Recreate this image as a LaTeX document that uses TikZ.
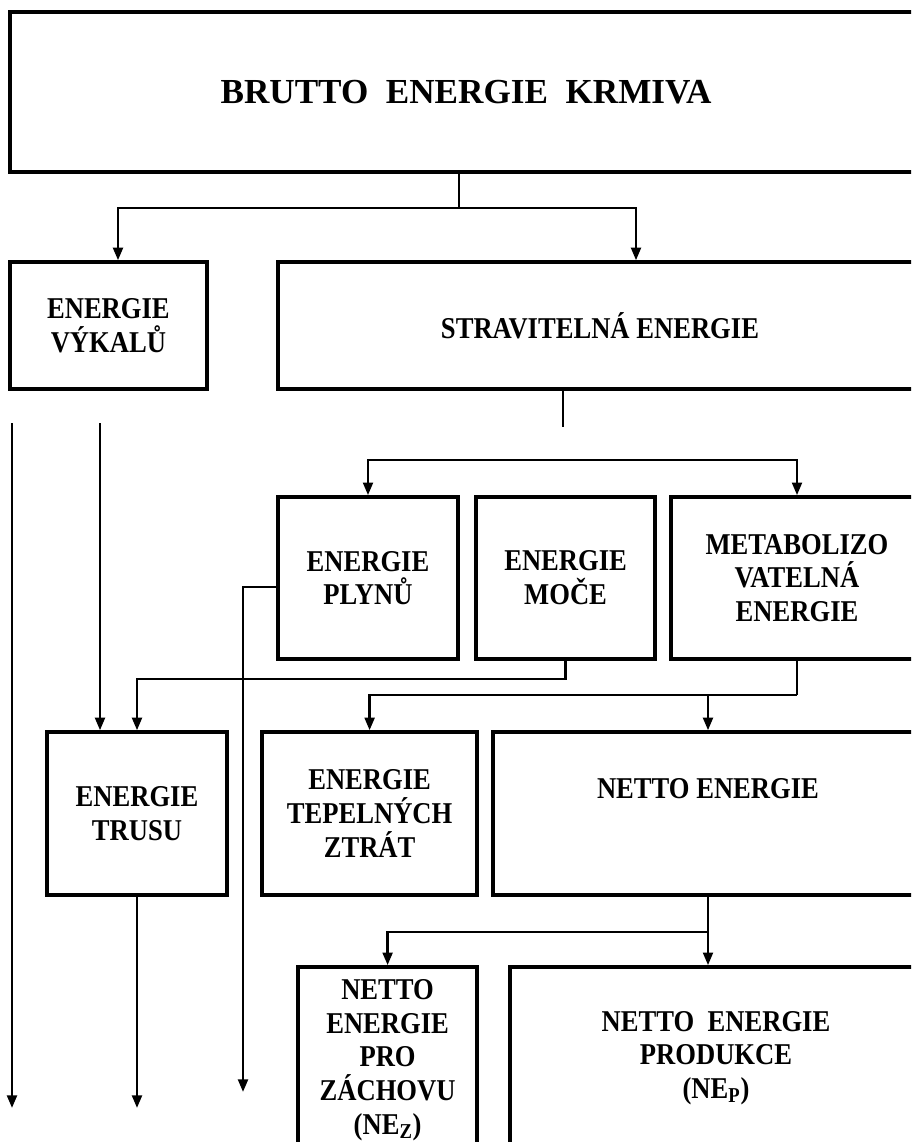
\documentclass[tikz,border=0pt]{standalone}
\usepackage{fontspec}
\setmainfont{Liberation Serif}
\newfontfamily\narrowserif[FakeStretch=0.88]{Liberation Serif}
\usetikzlibrary{arrows.meta, positioning}

\begin{document}
\begin{tikzpicture}[
    box_text/.style={align=center, font=\narrowserif\fontsize{21.5}{24}\selectfont\bfseries},
    box/.style={box_text, draw=black, line width=2.6pt, rectangle},
    link_line/.style={line width=1.8pt, draw=black},
    arr_line/.style={link_line, -{Triangle[length=9pt, width=7pt]}}
]
    % Frame
    \clip (0,0) rectangle (22.775,-28.55);
    \fill[white] (0,0) rectangle (22.775,-28.55);

    % Boxes
    \node (brutto) [box, minimum width=22.8cm, minimum height=4.0cm, font=\fontsize{25}{30}\selectfont\bfseries] at (11.65,-2.3) {BRUTTO~ ENERGIE~ KRMIVA};
    \node (vykaly) [box, minimum width=4.925cm, minimum height=3.175cm] at (2.71,-8.14) {ENERGIE\\VÝKALŮ};
    \node (strav) [box, minimum width=16.1cm, minimum height=3.175cm] at (15.0,-8.14) {STRAVITELNÁ ENERGIE};

    \node (plyny) [box, minimum width=4.5cm, minimum height=4.05cm] at (9.2,-14.45) {ENERGIE\\PLYNŮ};
    \node (moc) [box, minimum width=4.475cm, minimum height=4.05cm] at (14.14,-14.45) {ENERGIE\\MOČE};
    \node (metab) [box, minimum width=6.3cm, minimum height=4.05cm] at (19.925,-14.45) {METABOLIZO\\VATELNÁ\\ENERGIE};

    \node (trus) [box, minimum width=4.5cm, minimum height=4.075cm] at (3.425,-20.34) {ENERGIE\\TRUSU};
    \node (teplo) [box, minimum width=5.375cm, minimum height=4.075cm] at (9.24,-20.34) {ENERGIE\\TEPELNÝCH\\ZTRÁT};
    \node (netto) [box, minimum width=10.75cm, minimum height=4.075cm] at (17.7,-20.34) {};
    \node (netto_text) [box_text] at ([yshift=-1.45cm]netto.north) {NETTO ENERGIE};

    \node (zachova) [box, minimum width=4.475cm, minimum height=4.65cm] at (9.69,-26.5) {NETTO\\ENERGIE\\PRO\\ZÁCHOVU\\(NE\textsubscript{Z})};
    \node (produkce) [box, minimum width=10.3cm, minimum height=4.55cm] at (17.9,-26.45) {NETTO~ ENERGIE\\PRODUKCE\\(NE\textsubscript{P})};

    % Junctions and free ends
    \coordinate (j1) at (11.475,-5.2);
    \coordinate (j2) at (14.075,-11.5);
    \coordinate (j4) at (19.925,-17.375);
    \coordinate (l1) at (0.3,-10.575);
    \coordinate (l1e) at (0.3,-27.7);
    \coordinate (l2) at (2.5,-10.575);
    \coordinate (p1e) at (6.075,-27.3);
    \coordinate (t1e) at (3.425,-27.7);

    % Connectors
    \draw [link_line] (brutto.south -| j1) -- (j1);
    \draw [arr_line] (j1) -| ([xshift=0.24cm]vykaly.north);
    \draw [arr_line] (j1) -| ([xshift=0.9cm]strav.north);

    \draw [link_line] ([xshift=-0.925cm]strav.south) -- ++(0,-0.9);
    \draw [arr_line] (j2) -| (plyny.north);
    \draw [arr_line] (j2) -| (metab.north);

    \draw [arr_line] (l1) -- (l1e);
    \draw [arr_line] (l2) -- (l2 |- trus.north);
    \draw [arr_line] ([yshift=-0.225cm]plyny.west) -| (p1e);
    \draw [arr_line] (moc.south) -- ++(0,-0.45) -| (trus.north);

    \draw [link_line] (metab.south) -- (j4);
    \draw [arr_line] (j4) -| (teplo.north);
    \draw [arr_line] (netto.north |- j4) -- (netto.north);

    \draw [arr_line] (trus.south) -- (t1e);
    \draw [arr_line] (netto.south) -- ++(0,-0.875) -| (zachova.north);
    \draw [arr_line] (netto.south) -- (netto.south |- produkce.north);
\end{tikzpicture}
\end{document}
